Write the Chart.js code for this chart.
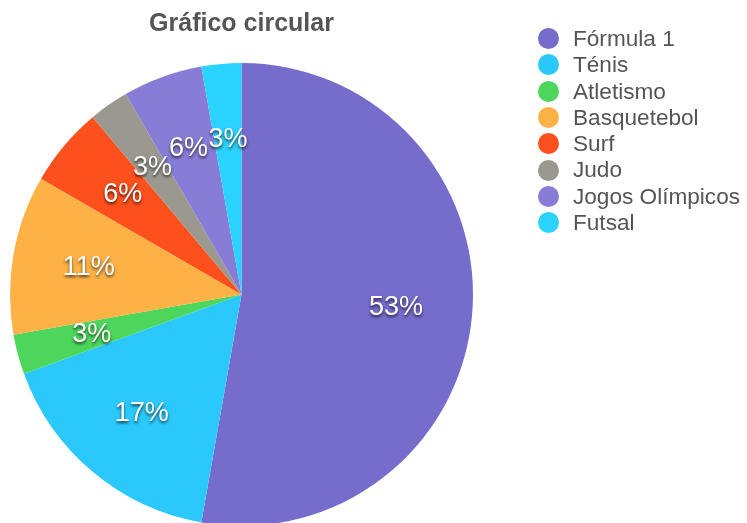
<!DOCTYPE html>
<html lang="pt">
<head>
<meta charset="utf-8">
<title>Gráfico circular</title>
<script src="https://cdn.jsdelivr.net/npm/chart.js@4"></script>
<style>
    html, body { margin: 0; padding: 0; background: #fff; overflow: hidden; }
    #wrap { position: relative; width: 747px; height: 526px; }
    #legenda {
        position: absolute; left: 538px; top: 26px; margin: 0; padding: 0;
        list-style: none; font-family: "Liberation Sans", Arial, sans-serif;
        font-size: 22.6px; color: #555;
    }
    #legenda li { height: 26.3px; line-height: 26.3px; white-space: nowrap; }
    #legenda span.bola {
        display: inline-block; width: 21px; height: 21px; border-radius: 50%;
        vertical-align: middle; margin: -3px 14px 0 0;
    }
</style>
</head>
<body>
<div id="wrap">
    <canvas id="grafico"></canvas>
    <ul id="legenda"></ul>
</div>
<script>
// dados do gráfico
const categorias = ['Fórmula 1', 'Ténis', 'Atletismo', 'Basquetebol', 'Surf', 'Judo', 'Jogos Olímpicos', 'Futsal'];
const valores = [19, 6, 1, 4, 2, 1, 2, 1];
const cores = ['#766ccc', '#2bc9fb', '#4cd65b', '#feb245', '#fe501c', '#9b9890', '#877dd6', '#29d3fc'];

// rótulos de percentagem dentro das fatias
const rotulosPlugin = {
    id: 'rotulos',
    afterDatasetsDraw(chart) {
        const ctx = chart.ctx;
        const meta = chart.getDatasetMeta(0);
        const total = valores.reduce((a, b) => a + b, 0);
        ctx.save();
        ctx.font = '27px "Liberation Sans", Arial, sans-serif';
        ctx.textAlign = 'center';
        ctx.textBaseline = 'middle';
        ctx.fillStyle = '#fff';
        ctx.shadowColor = 'rgba(0,0,0,0.7)';
        ctx.shadowBlur = 3;
        ctx.shadowOffsetY = 2;
        meta.data.forEach((arc, i) => {
            const p = arc.getProps(['x', 'y', 'startAngle', 'endAngle', 'outerRadius'], true);
            const meio = (p.startAngle + p.endAngle) / 2;
            const r = p.outerRadius * 0.67;
            const txt = Math.round(valores[i] / total * 100) + '%';
            ctx.fillText(txt, p.x + Math.cos(meio) * r, p.y + Math.sin(meio) * r);
        });
        ctx.restore();
    }
};

const chart = new Chart(document.getElementById('grafico'), {
    type: 'pie',
    data: {
        labels: categorias,
        datasets: [{
            data: valores,
            backgroundColor: cores,
            borderWidth: 0
        }]
    },
    options: {
        responsive: true,
        maintainAspectRatio: false,
        animation: false,
        events: [],
        layout: { padding: { left: 10, right: 274, top: 0, bottom: 0 } },
        plugins: {
            legend: { display: false },
            tooltip: { enabled: false },
            title: {
                display: true,
                text: 'Gráfico circular',
                color: '#555',
                font: { family: '"Liberation Sans", Arial, sans-serif', size: 25, weight: 'bold' },
                padding: { top: 9, bottom: 24 }
            }
        }
    },
    plugins: [rotulosPlugin]
});

// legenda em HTML
const ul = document.getElementById('legenda');
categorias.forEach((nome, i) => {
    const li = document.createElement('li');
    li.innerHTML = `<span class="bola" style="background:${cores[i]}"></span>${nome}`;
    ul.appendChild(li);
});
</script>
</body>
</html>
